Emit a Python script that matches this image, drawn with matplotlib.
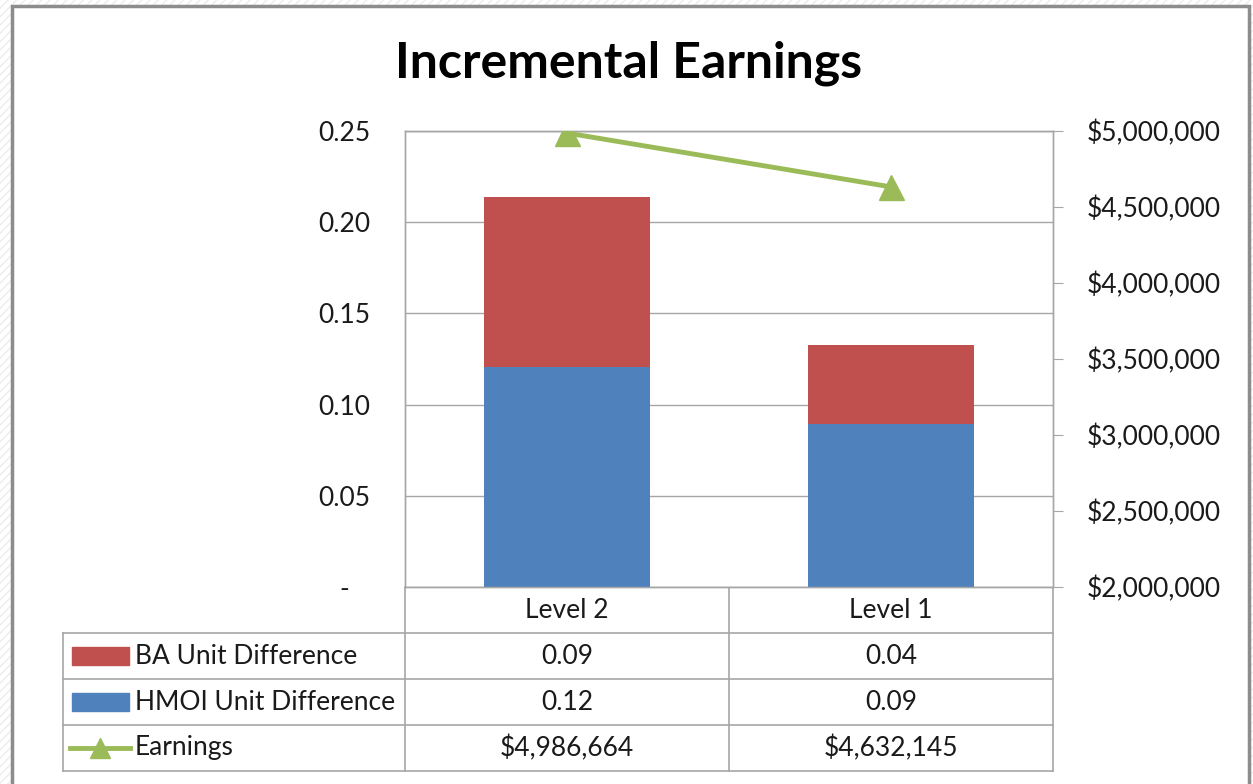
import matplotlib.pyplot as plt
from matplotlib.patches import Rectangle
from matplotlib.lines import Line2D
from matplotlib.ticker import FuncFormatter, MultipleLocator

# data
categories = ["Level 2", "Level 1"]
hmoi_diff = [0.1206, 0.0894]
ba_diff = [0.0932, 0.0433]
earnings = [4986664, 4632145]
hmoi_labels = ["0.12", "0.09"]
ba_labels = ["0.09", "0.04"]
earn_labels = ["$4,986,664", "$4,632,145"]

RED = "#C0504D"
BLUE = "#4F81BD"
GREEN = "#9BBB59"
GRID = "#A6A6A6"
TXT = "#1a1a1a"
FONT = "Lato"
FS = 19

plt.rcParams["font.family"] = [FONT, "DejaVu Sans"]

W, H = 1253, 784
fig = plt.figure(figsize=(W / 100, H / 100), dpi=100)

# background / frame in pixel coords
bg = fig.add_axes([0, 0, 1, 1], zorder=0)
bg.set_xlim(0, W)
bg.set_ylim(H, 0)
bg.axis("off")
bg.add_patch(Rectangle((0, 0), W, H, facecolor="white", edgecolor="#ececec",
                       hatch="////", lw=0))
bg.add_patch(Rectangle((12, 6), 1237, 800, facecolor="white", edgecolor="#8c8c8c", lw=2.5))

# plot area
x0, x1, ytop, ybot = 405, 1053, 131, 587
ax = fig.add_axes([x0 / W, 1 - ybot / H, (x1 - x0) / W, (ybot - ytop) / H], zorder=2)
xs = range(len(categories))
ax.bar(xs, hmoi_diff, width=0.51, color=BLUE, zorder=3)
ax.bar(xs, ba_diff, width=0.51, bottom=hmoi_diff, color=RED, zorder=3)
ax.set_xlim(-0.5, 1.5)
ax.set_ylim(0, 0.25)
ax.yaxis.set_major_locator(MultipleLocator(0.05))
# accounting style: zero shown as a dash, indented
ax.yaxis.set_major_formatter(FuncFormatter(lambda v, p: "-   " if abs(v) < 1e-9 else f"{v:.2f}"))
ax.grid(axis="y", color=GRID, lw=1, zorder=0)
ax.set_xticks([])
ax.tick_params(axis="y", length=0, pad=25, labelsize=FS, labelcolor=TXT)
for s in ax.spines.values():
    s.set_color(GRID)
    s.set_linewidth(1)

ax2 = ax.twinx()
ax2.plot(xs, earnings, color=GREEN, lw=3.5, marker="^", markersize=18, zorder=4)
ax2.set_ylim(2000000, 5000000)
ax2.yaxis.set_major_locator(MultipleLocator(500000))
ax2.yaxis.set_major_formatter(FuncFormatter(lambda v, p: f"${v:,.0f}"))
ax2.tick_params(axis="y", direction="out", length=7, color=GRID, pad=17,
                labelsize=FS, labelcolor=TXT)
for s in ax2.spines.values():
    s.set_color(GRID)
    s.set_linewidth(1)
ax2.set_xlim(-0.5, 1.5)

fig.text(629 / W, 1 - 63 / H, "Incremental Earnings", ha="center", va="center",
         fontsize=36, fontweight="bold", color="black")

# data table
tl = dict(color=GRID, lw=1.2)
rows_y = [587, 633, 679, 725, 771]
for y in rows_y[1:]:
    bg.add_line(Line2D([63, x1], [y, y], **tl))
for x in [x0, 729, x1]:
    bg.add_line(Line2D([x, x], [587, 771], **tl))
bg.add_line(Line2D([63, 63], [633, 771], **tl))

col_x = [567, 891]
for cx, c in zip(col_x, categories):
    bg.text(cx, 611, c, ha="center", va="center", fontsize=FS, color=TXT)

series_rows = [("BA Unit Difference", ba_labels, RED),
               ("HMOI Unit Difference", hmoi_labels, BLUE),
               ("Earnings", earn_labels, GREEN)]
for i, (name, labels, col) in enumerate(series_rows):
    yc = (rows_y[i + 1] + rows_y[i + 2]) / 2
    if name == "Earnings":
        bg.add_line(Line2D([70, 130], [yc, yc], color=col, lw=3.5))
        bg.plot([100], [yc], marker="^", color=col, markersize=15)
    else:
        bg.add_patch(Rectangle((72, yc - 9), 57, 18, color=col))
    bg.text(135, yc, name, ha="left", va="center", fontsize=FS, color=TXT)
    for cx, lab in zip(col_x, labels):
        bg.text(cx, yc, lab, ha="center", va="center", fontsize=FS, color=TXT)

fig.savefig("out.png", dpi=100)
